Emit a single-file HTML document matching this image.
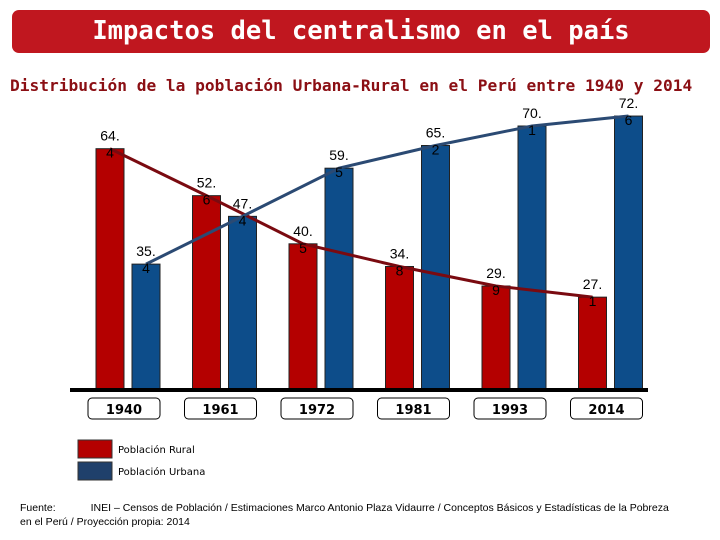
<!DOCTYPE html>
<html><head><meta charset="utf-8"><style>
body{margin:0;width:720px;height:540px;background:#fff;overflow:hidden;position:relative;font-family:"Liberation Sans",sans-serif}
#banner{position:absolute;left:12px;top:10px;width:698px;height:43px;background:#c0171f;border-radius:7px;color:#fff;font:bold 25.5px "DejaVu Sans Mono",monospace;text-align:center;line-height:43px}
#sub{position:absolute;left:10px;top:76px;font:bold 16.2px "DejaVu Sans Mono",monospace;color:#8b0f14;white-space:nowrap}
#foot{position:absolute;left:20px;top:501px;font-size:10.5px;line-height:14px;color:#000;width:700px}
</style></head><body>
<div id="banner">Impactos del centralismo en el país</div>
<div id="sub">Distribución de la población Urbana-Rural en el Perú entre 1940 y 2014</div>
<svg id="chart" width="720" height="540" style="position:absolute;left:0;top:0"></svg>
<div id="foot">Fuente:&nbsp;&nbsp;&nbsp;&nbsp;&nbsp;&nbsp;&nbsp;&nbsp;&nbsp;&nbsp;&nbsp;&nbsp;INEI – Censos de Población / Estimaciones Marco Antonio Plaza Vidaurre / Conceptos Básicos y Estadísticas de la Pobreza<br>en el Perú / Proyección propia: 2014</div>
<script>
const categories=["1940","1961","1972","1981","1993","2014"];
const rural=[64.4,52.6,40.5,34.8,29.9,27.1];
const urbana=[35.4,47.4,59.5,65.2,70.1,72.6];
const ruralLabels=["64.\n4","52.\n6","40.\n5","34.\n8","29.\n9","27.\n1"];
const urbanLabels=["35.\n4","47.\n4","59.\n5","65.\n2","70.\n1","72.\n6"];
const NS="http://www.w3.org/2000/svg";
const svg=document.getElementById('chart');
const base=389;
function y(v){return 405-3.98*v;}
function xr(i){return 96+i*96.5;}
function xu(i){return xr(i)+36;}
const bw=28;
function mk(t,a){const e=document.createElementNS(NS,t);for(const k in a)e.setAttribute(k,a[k]);svg.appendChild(e);return e;}
function label(txt,cx,ty){const lines=txt.split("\n");lines.forEach((l,j)=>{const t=mk('text',{x:cx,y:ty-8+j*17,'text-anchor':'middle','font-size':'14','font-family':'Liberation Sans, sans-serif'});t.textContent=l;

});}
categories.forEach((c,i)=>{
 const r=mk('rect',{x:xr(i),y:y(rural[i]),width:bw,height:base-y(rural[i]),fill:'#b40000',stroke:'#222','stroke-width':1});
 
 
 const u=mk('rect',{x:xu(i),y:y(urbana[i]),width:bw,height:base-y(urbana[i]),fill:'#0d4d8a',stroke:'#222','stroke-width':1});
 
 
 const bx=mk('rect',{x:xr(i)-8,y:398,width:72,height:21,rx:4,fill:'#fff',stroke:'#000','stroke-width':1});
 
 
 const t=mk('text',{x:xr(i)+28,y:414,'text-anchor':'middle','font-size':'13','font-weight':'bold','font-family':'DejaVu Sans, sans-serif'});t.textContent=c;
 
 
});
const ax=mk('line',{x1:70,y1:base+1,x2:648,y2:base+1,stroke:'#000','stroke-width':4});


const rl=mk('polyline',{points:rural.map((v,i)=>(xr(i)+bw/2)+','+y(v)).join(' '),fill:'none',stroke:'#7a0a10','stroke-width':3});


const ul=mk('polyline',{points:urbana.map((v,i)=>(xu(i)+bw/2)+','+y(v)).join(' '),fill:'none',stroke:'#2b4a73','stroke-width':3});


categories.forEach((c,i)=>{label(ruralLabels[i],xr(i)+bw/2,y(rural[i]));label(urbanLabels[i],xu(i)+bw/2,y(urbana[i]));});
const s1=mk('rect',{x:78,y:440,width:34,height:18,fill:'#b40000',stroke:'#333'});


const s2=mk('rect',{x:78,y:462,width:34,height:18,fill:'#1f406b',stroke:'#333'});


const l1=mk('text',{x:118,y:453,'font-size':'10','font-family':'DejaVu Sans, sans-serif'});l1.textContent='Población Rural';


const l2=mk('text',{x:118,y:475,'font-size':'10','font-family':'DejaVu Sans, sans-serif'});l2.textContent='Población Urbana';


</script>
</body></html>
